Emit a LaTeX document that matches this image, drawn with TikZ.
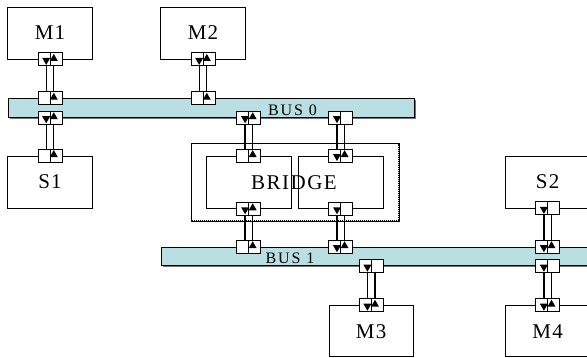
\documentclass[tikz,border=0pt]{standalone}
\usepackage{fontspec}
\setmainfont{Liberation Serif}
\definecolor{busfill}{RGB}{185,223,227}
\newcommand\pdn[1]{\fill ([xshift=-3.8pt]#1.center) ++(-4,-1.5) -- ++(8,0) -- ++(-4,7) -- cycle;}
\newcommand\pup[1]{\fill ([xshift=3.8pt]#1.center) ++(-4,1.5) -- ++(8,0) -- ++(-4,-7) -- cycle;}
\newcommand\pwire[2]{\draw[wire] ([xshift=-3.8pt]#1.north) -- ([xshift=-3.8pt]#2.south);
  \draw[wire] ([xshift=3.8pt]#1.north) -- ([xshift=3.8pt]#2.south);}
\begin{document}
\begin{tikzpicture}[x=1pt,y=-1pt,
  box/.style={draw,line width=0.9pt,fill=white,minimum width=84.3pt,minimum height=52pt,inner sep=0pt,
    font=\fontsize{21}{21}\selectfont\addfontfeature{LetterSpace=6}},
  bus/.style={draw=black,line width=0.9pt,fill=busfill,inner sep=0pt,minimum height=18.6pt},
  busshadow/.style={fill=black!55,inner sep=0pt,minimum height=18.6pt},
  buslabel/.style={inner sep=0pt,font=\fontsize{16}{16}\selectfont\addfontfeature{LetterSpace=12}},
  port/.style={draw,fill=white,line width=1pt,minimum width=24pt,minimum height=13pt,inner sep=0pt,
    path picture={\draw[line width=1pt] (path picture bounding box.north) -- (path picture bounding box.south);}},
  wire/.style={line width=1.3pt}]
\useasboundingbox (0,0) rectangle (587,358);
\clip (0,0) rectangle (587,358);
% boxes
\node[box] (M1) at (50,33) {M1};
\node[box] (M2) at (203,33) {M2};
\node[box] (S1) at (50,182) {S1};
\node[box] (S2) at (547.7,182) {S2};
\node[box,minimum height=51pt] (M3) at (371.2,331.2) {M3};
\node[box,minimum height=51pt] (M4) at (547.7,331.2) {M4};
% bridge
\node[draw,line width=0.9pt,minimum width=208pt,minimum height=78pt,inner sep=0pt] (BR) at (295,182) {};
\draw[line width=1pt,densely dotted] ([xshift=1.4pt,yshift=-1.4pt]BR.north west) rectangle ([xshift=-1.4pt,yshift=1.4pt]BR.south east);
\node[box,minimum width=84.3pt,minimum height=52.3pt] (BL) at (248.9,182.2) {};
\node[box,minimum width=85pt,minimum height=52.3pt] (BRR) at (340.8,182.2) {};
\node[inner sep=0pt,font=\fontsize{21}{21}\selectfont\addfontfeature{LetterSpace=7}] (BT) at (294,183) {BRIDGE};
% buses
\node[busshadow,minimum width=406pt] (b0s) at (212.5,109.5) {};
\node[bus,minimum width=406pt] (B0) at (211,108) {};
\node[busshadow,minimum width=430pt] (b1s) at (377.5,258) {};
\node[bus,minimum width=430pt] (B1) at (376,256.5) {};
\node[buslabel] (L0) at (292.5,110.5) {BUS 0};
\node[buslabel] (L1) at (290,258.5) {BUS 1};
% ports
\node[port] (pM1) at (M1.south) {};
\node[port] (pA0) at (M1.south |- B0.north) {};
\node[port] (pA1) at (M1.south |- B0.south) {};
\node[port] (pS1) at (S1.north) {};
\node[port] (pM2) at (M2.south) {};
\node[port] (pB0) at (M2.south |- B0.north) {};
\node[port] (pC0) at (BL.north |- B0.south) {};
\node[port] (pCt) at (BL.north) {};
\node[port] (pCb) at (BL.south) {};
\node[port] (pC1) at (BL.south |- B1.north) {};
\node[port] (pD0) at (BRR.north |- B0.south) {};
\node[port] (pDt) at (BRR.north) {};
\node[port] (pDb) at (BRR.south) {};
\node[port] (pD1) at (BRR.south |- B1.north) {};
\node[port] (pE1) at (M3.north |- B1.south) {};
\node[port] (pM3) at (M3.north) {};
\node[port] (pS2) at (S2.south) {};
\node[port] (pF0) at (S2.south |- B1.north) {};
\node[port] (pF1) at (S2.south |- B1.south) {};
\node[port] (pM4) at (M4.north) {};
% wires
\pwire{pA0}{pM1}
\pwire{pS1}{pA1}
\pwire{pB0}{pM2}
\pwire{pCt}{pC0}
\pwire{pC1}{pCb}
\pwire{pDt}{pD0}
\pwire{pD1}{pDb}
\pwire{pM3}{pE1}
\pwire{pF0}{pS2}
\pwire{pM4}{pF1}
% arrowheads
\pdn{pM1}\pup{pM1}
\pup{pA0}
\pdn{pA1}\pup{pA1}
\pup{pS1}
\pdn{pM2}\pup{pM2}
\pup{pB0}
\pdn{pC0}\pup{pC0}
\pup{pCt}
\pdn{pCb}\pup{pCb}
\pup{pC1}
\pdn{pD0}
\pdn{pDt}\pup{pDt}
\pdn{pDb}
\pdn{pD1}\pup{pD1}
\pdn{pE1}
\pdn{pM3}\pup{pM3}
\pdn{pS2}
\pdn{pF0}\pup{pF0}
\pdn{pF1}
\pdn{pM4}\pup{pM4}
\end{tikzpicture}
\end{document}
